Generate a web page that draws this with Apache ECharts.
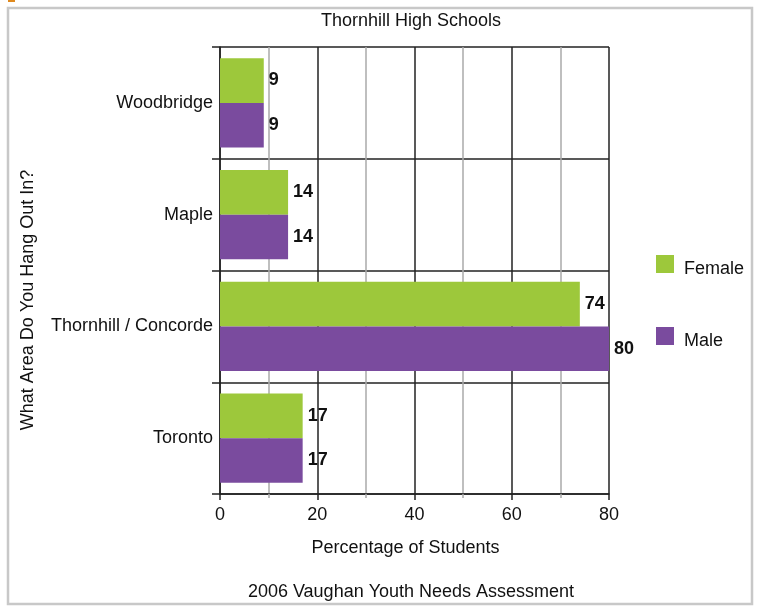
<!DOCTYPE html>
<html>
<head>
<meta charset="utf-8">
<script src="https://cdn.jsdelivr.net/npm/echarts@6/dist/echarts.min.js"></script>
<style>
  html, body { margin: 0; padding: 0; background: #fff; }
  #chart { width: 760px; height: 606px; }
</style>
</head>
<body>
<div id="chart"></div>
<script>
// Areas where students hang out, top to bottom
const categories = ['Woodbridge', 'Maple', 'Thornhill / Concorde', 'Toronto'];
// Percentage of students by gender
const femaleValues = [9, 14, 74, 17];
const maleValues = [9, 14, 80, 17];
const seriesNames = ['Female', 'Male'];

const FONT = 'Liberation Sans, Arial, sans-serif';
const INK = '#111';
const TEXT_SIZE = 18;

const chart = echarts.init(document.getElementById('chart'), null, { renderer: 'canvas' });

const valueLabel = {
  show: true,
  position: 'right',
  distance: 5,
  fontFamily: FONT,
  fontSize: 18,
  fontWeight: 'bold',
  color: INK
};

chart.setOption({
  animation: false,
  backgroundColor: '#fff',
  title: [
    {
      text: 'Thornhill High Schools',
      left: 406, top: 7, textAlign: 'center',
      textStyle: { fontFamily: FONT, fontSize: TEXT_SIZE, fontWeight: 'normal', color: INK }
    },
    {
      text: '2006 Vaughan Youth Needs Assessment',
      left: 406, top: 578, textAlign: 'center',
      textStyle: { fontFamily: FONT, fontSize: TEXT_SIZE, fontWeight: 'normal', color: INK }
    }
  ],
  legend: {
    orient: 'vertical',
    left: 656, top: 255,
    padding: 0,
    itemWidth: 18, itemHeight: 18,
    itemGap: 49,
    icon: 'rect',
    data: seriesNames,
    formatter: '{t|{name}}',
    textStyle: {
      fontFamily: FONT, fontSize: TEXT_SIZE, color: INK,
      rich: { t: { fontFamily: FONT, fontSize: TEXT_SIZE, color: INK, padding: [10, 0, 0, 5] } }
    }
  },
  grid: { left: 220, right: 151, top: 47, bottom: 112, containLabel: false },
  xAxis: {
    type: 'value',
    min: 0, max: 80, interval: 20,
    name: 'Percentage of Students',
    nameLocation: 'middle',
    nameGap: 45,
    nameTextStyle: { fontFamily: FONT, fontSize: TEXT_SIZE, color: INK, padding: [0, 18, 0, 0] },
    axisLine: { show: true, lineStyle: { color: '#222', width: 1.5 } },
    axisTick: { show: true, length: 6, lineStyle: { color: '#222', width: 1.5 } },
    minorTick: { show: true, splitNumber: 2, length: 4, lineStyle: { color: '#aaa', width: 1.5 } },
    axisLabel: { fontFamily: FONT, fontSize: TEXT_SIZE, color: INK, margin: 12 },
    splitLine: { show: true, lineStyle: { color: '#222', width: 1.5 } },
    minorSplitLine: { show: true, lineStyle: { color: '#aaa', width: 1.5 } }
  },
  yAxis: {
    type: 'category',
    inverse: true,
    data: categories,
    axisLine: { show: true, lineStyle: { color: '#222', width: 1.5 } },
    axisTick: { show: true, length: 8, lineStyle: { color: '#222', width: 1.5 } },
    axisLabel: { fontFamily: FONT, fontSize: TEXT_SIZE, color: INK, margin: 7 },
    splitLine: { show: true, lineStyle: { color: '#222', width: 1.5 } }
  },
  series: [
    {
      name: seriesNames[0],
      type: 'bar',
      data: femaleValues,
      barGap: '0%',
      barCategoryGap: '20%',
      itemStyle: { color: '#9dc83b' },
      label: valueLabel
    },
    {
      name: seriesNames[1],
      type: 'bar',
      data: maleValues,
      barGap: '0%',
      barCategoryGap: '20%',
      itemStyle: { color: '#7a4b9e' },
      label: valueLabel
    }
  ],
  graphic: [
    {
      type: 'rect',
      shape: { x: 8, y: 8, width: 744, height: 596 },
      style: { fill: 'none', stroke: '#c8c8c8', lineWidth: 2.5 },
      silent: true
    },
    {
      type: 'rect',
      shape: { x: 8, y: 0, width: 7, height: 2 },
      style: { fill: '#e08a1e' },
      silent: true
    },
    {
      type: 'text',
      x: 28, y: 300,
      rotation: Math.PI / 2,
      style: {
        text: 'What Area Do You Hang Out In?',
        fontFamily: FONT, fontSize: TEXT_SIZE, fill: INK,
        align: 'center', verticalAlign: 'middle'
      },
      silent: true
    }
  ]
});
</script>
</body>
</html>
